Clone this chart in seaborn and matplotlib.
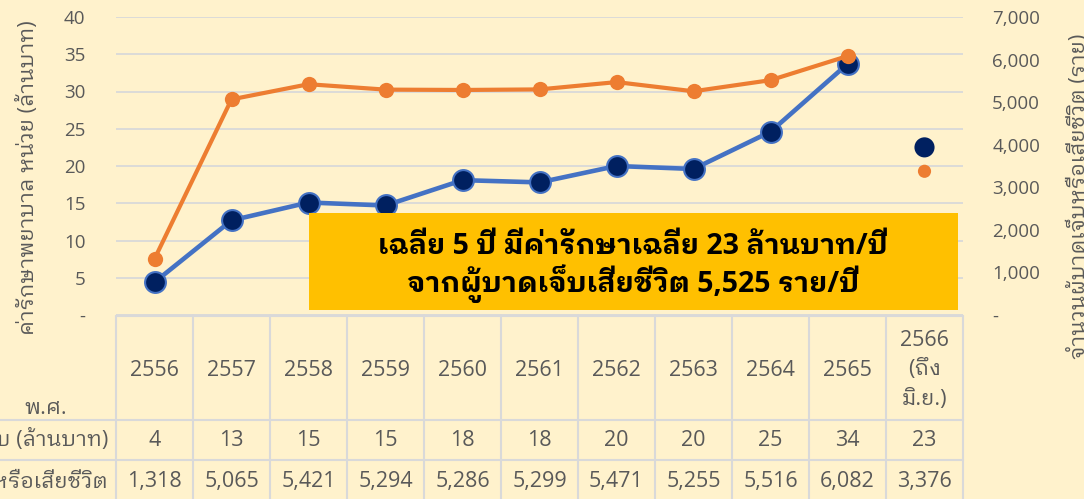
import matplotlib
matplotlib.use("Agg")
import matplotlib.pyplot as plt
import matplotlib.transforms as mtransforms
from matplotlib import font_manager
from matplotlib.lines import Line2D
from matplotlib.patches import Rectangle
import seaborn as sns

# -----------------------------
# Data
# -----------------------------
years = ["2556", "2557", "2558", "2559", "2560", "2561", "2562", "2563",
         "2564", "2565", "2566\n(ถึง\nมิ.ย.)"]
cost = [4.4, 12.7, 15.1, 14.7, 18.1, 17.8, 20.0, 19.6, 24.6, 33.7, 22.5]
cost_labels = ["4", "13", "15", "15", "18", "18", "20", "20", "25", "34", "23"]
victims = [1318, 5065, 5421, 5294, 5286, 5299, 5471, 5255, 5516, 6082, 3376]

left_title = "ค่ารักษาพยาบาล หน่วย (ล้านบาท)"
right_title = "จำนวนผู้บาดเจ็บหรือเสียชีวิต (ราย)"
row_cost = "ค่ารักษาพยาบาลผู้บาดเจ็บ (ล้านบาท)"
row_victims = "จำนวนผู้บาดเจ็บหรือเสียชีวิต"
note_1 = "เฉลี่ย 5 ปี มีค่ารักษาเฉลี่ย 23 ล้านบาท/ปี"
note_2 = "จากผู้บาดเจ็บเสียชีวิต 5,525 ราย/ปี"

# -----------------------------
# Style
# -----------------------------
BG = "#FFF2CC"
BLUE = "#4472C4"
NAVY = "#002060"
ORANGE = "#ED7D31"
GRID = "#D9D9D9"
TXT = "#595959"

sns.set_style("white")
names = {f.name for f in font_manager.fontManager.ttflist}
thai = next((n for n in ["IBM Plex Sans Thai Looped", "Sarabun", "Noto Sans Thai Looped",
                         "Noto Sans Thai"] if n in names), "DejaVu Sans")
plt.rcParams["font.family"] = ["Open Sans", thai, "DejaVu Sans"]

W, H = 1084, 499
fig = plt.figure(figsize=(W / 100, H / 100), dpi=100, facecolor=BG)
ax = fig.add_axes([116 / W, 1 - 315 / H, (963 - 116) / W, (315 - 17) / H])
ax.set_facecolor("none")

x = list(range(len(years)))

# cost line (primary axis)
sns.lineplot(x=x[:10], y=cost[:10], ax=ax, color=BLUE, linewidth=3.3,
             marker="o", markersize=15, markerfacecolor=NAVY,
             markeredgecolor=BLUE, markeredgewidth=1.5, zorder=3)
sns.scatterplot(x=x[10:], y=cost[10:], ax=ax, s=210, color=NAVY,
                edgecolor="none", zorder=3)

ax.set_xlim(-0.5, 10.5)
ax.set_ylim(0, 40)
ax.set_xticks([])
ax.set_yticks(range(0, 41, 5))
ax.set_yticklabels(["-" if v == 0 else str(v) for v in range(0, 41, 5)],
                   color=TXT, fontsize=13.5)
ax.tick_params(axis="y", length=0, pad=22)
ax.yaxis.grid(True, color=GRID, linewidth=1.3)
ax.set_axisbelow(True)
ax.set_xlabel("")
ax.set_ylabel("")
for s in ax.spines.values():
    s.set_visible(False)

# victims line (secondary axis)
ax2 = ax.twinx()
sns.lineplot(x=x[:10], y=victims[:10], ax=ax2, color=ORANGE, linewidth=3,
             marker="o", markersize=11, markerfacecolor=ORANGE,
             markeredgecolor=ORANGE, markeredgewidth=0, zorder=3)
sns.scatterplot(x=x[10:], y=victims[10:], ax=ax2, s=90, color=ORANGE,
                edgecolor="none", zorder=3)
ax2.set_ylim(0, 7000)
ax2.set_yticks(range(0, 7001, 1000))
ax2.set_yticklabels(["-" if v == 0 else f"{v:,}" for v in range(0, 7001, 1000)],
                    color=TXT, fontsize=13.5)
ax2.tick_params(axis="y", length=0, pad=21)
ax2.set_ylabel("")
ax2.grid(False)
for s in ax2.spines.values():
    s.set_visible(False)

# -----------------------------
# Axis titles (pixel positions, y from top)
# -----------------------------
pix = mtransforms.Affine2D().scale(1, -1).translate(0, H)
fig.text(34, 178, left_title, rotation=90, rotation_mode="anchor",
         ha="center", va="baseline", color=TXT, fontsize=15.5, transform=pix)
fig.text(1085, 196, right_title, rotation=90, rotation_mode="anchor",
         ha="center", va="baseline", color=TXT, fontsize=15.5, transform=pix)

# -----------------------------
# Data table under the chart
# -----------------------------
tab = mtransforms.blended_transform_factory(ax.transData, pix)
tline = dict(color=GRID, linewidth=1.5, transform=tab, clip_on=False, zorder=1)
fig.add_artist(Line2D([-0.5, 10.5], [316, 316], **tline))
for yy in (420, 460):
    fig.add_artist(Line2D([-3, 10.5], [yy, yy], **tline))
for i in range(len(years) + 1):
    fig.add_artist(Line2D([i - 0.5, i - 0.5], [316, 520], **tline))

for i, yr in enumerate(years):
    fig.text(i, 370, yr, ha="center", va="center", color=TXT, fontsize=15.5,
             linespacing=1.5, transform=tab)
    fig.text(i, 440, cost_labels[i], ha="center", va="center", color=TXT,
             fontsize=15.5, transform=tab)
    fig.text(i, 482, f"{victims[i]:,}", ha="center", va="center", color=TXT,
             fontsize=15.5, transform=tab)

fig.text(46, 408, "พ.ศ.", ha="center", va="center", color=TXT, fontsize=15.5,
         transform=pix)
fig.text(108, 440, row_cost, ha="right", va="center", color=TXT, fontsize=15.5,
         transform=pix)
fig.text(108, 482, row_victims, ha="right", va="center", color=TXT,
         fontsize=15.5, transform=pix)

# -----------------------------
# Callout box
# -----------------------------
fig.add_artist(Rectangle((309, 213), 649, 97, facecolor="#FFC000",
                         edgecolor="none", transform=pix, zorder=2))
fig.text(633, 246, note_1, ha="center", va="center", fontsize=20.5,
         fontweight="bold", color="black", transform=pix, zorder=3)
fig.text(633, 284, note_2, ha="center", va="center", fontsize=20.5,
         fontweight="bold", color="black", transform=pix, zorder=3)

fig.savefig("out.png", dpi=100, facecolor=BG)
